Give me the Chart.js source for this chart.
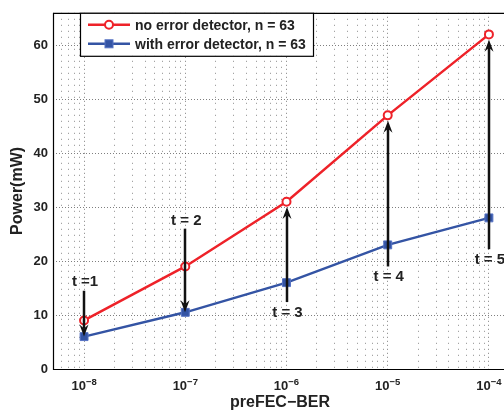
<!DOCTYPE html>
<html lang="en">
<head>
<meta charset="UTF-8">
<title>Power vs preFEC-BER</title>
<script src="https://cdn.jsdelivr.net/npm/chart.js"></script>
<style>
  html, body { margin: 0; padding: 0; background: #fff; overflow: hidden; }
  .chart-box { position: relative; width: 540px; height: 412px; }
</style>
</head>
<body>
<div class="chart-box"><canvas id="chart"></canvas></div>
<script>
  // data
  const berValues = [1e-8, 1e-7, 1e-6, 1e-5, 1e-4];
  const noDetector = [9, 19, 31, 47, 62];
  const withDetector = [6, 10.5, 16, 23, 28];
  const seriesLabels = ['no error detector, n = 63', 'with error detector, n = 63'];

  // arrows between the curves (power values) and their "t" labels
  const arrowLabels = ['t =1', 't = 2', 't = 3', 't = 4', 't = 5'];
  const arrowFrom = [14.5, 26, 12.4, 19, 22.2];
  const arrowTo = [6, 10.5, 30, 46, 61];
  const labelY = [16.1, 27.4, 10.4, 17, 20.2];

  const xExponents = [-8, -7, -6, -5, -4];
  const yTicks = [0, 10, 20, 30, 40, 50, 60];

  const FONT = '"Liberation Sans", Arial, Helvetica, sans-serif';
  const RED = '#ee2229';
  const BLUE = '#3454a4';

  function isMajor(ctx) {
    return ctx.tick && ctx.tick.major;
  }

  function drawArrow(ctx, x, y1, y2) {
    const dir = Math.sign(y2 - y1);
    const headLen = 12, headHalf = 4.5, notch = 4;
    ctx.beginPath();
    ctx.moveTo(x, y1);
    ctx.lineTo(x, y2 - dir * (headLen - notch));
    ctx.stroke();
    ctx.beginPath();
    ctx.moveTo(x, y2);
    ctx.lineTo(x - headHalf, y2 - dir * headLen);
    ctx.lineTo(x, y2 - dir * (headLen - notch));
    ctx.lineTo(x + headHalf, y2 - dir * headLen);
    ctx.closePath();
    ctx.fill();
  }

  const decorations = {
    id: 'decorations',
    beforeDatasetsDraw(chart) {
      const { ctx, chartArea: a } = chart;
      ctx.save();
      ctx.strokeStyle = '#000';
      ctx.lineWidth = 1.2;
      ctx.beginPath();
      ctx.moveTo(a.right + 5, a.top + 0.5);
      ctx.lineTo(a.left + 0.5, a.top + 0.5);
      ctx.lineTo(a.left + 0.5, a.bottom + 0.5);
      ctx.lineTo(a.right + 5, a.bottom + 0.5);
      ctx.stroke();
      ctx.restore();
    },
    afterDatasetsDraw(chart) {
      const { ctx } = chart;
      const xs = chart.scales.x, ys = chart.scales.y;
      ctx.save();
      ctx.strokeStyle = '#111';
      ctx.fillStyle = '#111';
      ctx.lineWidth = 2.5;
      berValues.forEach((v, i) => {
        const px = Math.round(xs.getPixelForValue(v));
        drawArrow(ctx, px, ys.getPixelForValue(arrowFrom[i]), ys.getPixelForValue(arrowTo[i]));
      });
      ctx.font = 'bold 15px ' + FONT;
      ctx.textAlign = 'center';
      ctx.textBaseline = 'middle';
      ctx.fillStyle = '#222';
      berValues.forEach((v, i) => {
        ctx.fillText(arrowLabels[i], xs.getPixelForValue(v) + 1, ys.getPixelForValue(labelY[i]));
      });
      ctx.restore();
    },
    afterDraw(chart) {
      const { ctx, chartArea: a } = chart;
      const xs = chart.scales.x;
      ctx.save();

      // x tick labels as 10 with a raised exponent
      ctx.fillStyle = '#222';
      ctx.textAlign = 'left';
      ctx.textBaseline = 'alphabetic';
      xExponents.forEach(e => {
        const px = xs.getPixelForValue(Math.pow(10, e));
        const exp = '\u2212' + (-e);
        ctx.font = 'bold 13px ' + FONT;
        const wb = ctx.measureText('10').width;
        ctx.font = 'bold 9.5px ' + FONT;
        const we = ctx.measureText(exp).width;
        const x0 = px - (wb + we) / 2;
        ctx.font = 'bold 13px ' + FONT;
        ctx.fillText('10', x0, a.bottom + 21);
        ctx.font = 'bold 9.5px ' + FONT;
        ctx.fillText(exp, x0 + wb, a.bottom + 15.5);
      });

      // x axis title
      ctx.font = 'bold 16px ' + FONT;
      ctx.textAlign = 'center';
      ctx.textBaseline = 'middle';
      ctx.fillText('preFEC\u2212BER', 280, a.bottom + 34);

      // legend box in the upper left corner
      const lx = 80, ly = a.top, lw = 233, lh = 43;
      ctx.fillStyle = '#fff';
      ctx.fillRect(lx, ly, lw, lh);
      ctx.strokeStyle = '#000';
      ctx.lineWidth = 1.2;
      ctx.strokeRect(lx + 0.5, ly + 0.5, lw, lh);
      chart.data.datasets.forEach((ds, i) => {
        const ry = ly + 12 + i * 19;
        ctx.strokeStyle = ds.borderColor;
        ctx.lineWidth = 2.5;
        ctx.beginPath();
        ctx.moveTo(lx + 8, ry);
        ctx.lineTo(lx + 50, ry);
        ctx.stroke();
        if (ds.pointStyle === 'rect') {
          ctx.fillStyle = ds.pointBackgroundColor;
          ctx.fillRect(lx + 25, ry - 4, 8, 8);
          ctx.strokeStyle = ds.pointBorderColor;
          ctx.lineWidth = 1;
          ctx.strokeRect(lx + 25, ry - 4, 8, 8);
        } else {
          ctx.fillStyle = '#fff';
          ctx.lineWidth = 2;
          ctx.beginPath();
          ctx.arc(lx + 29, ry, 4, 0, Math.PI * 2);
          ctx.fill();
          ctx.stroke();
        }
        ctx.fillStyle = '#222';
        ctx.font = 'bold 14px ' + FONT;
        ctx.textAlign = 'left';
        ctx.textBaseline = 'middle';
        ctx.fillText(ds.label, lx + 55, ry + 1);
      });
      ctx.restore();
    }
  };

  new Chart(document.getElementById('chart'), {
    type: 'line',
    data: {
      datasets: [
        {
          label: seriesLabels[0],
          data: berValues.map((x, i) => ({ x, y: noDetector[i] })),
          borderColor: RED,
          borderWidth: 2.5,
          pointStyle: 'circle',
          pointRadius: 4,
          pointBorderWidth: 2,
          pointBorderColor: RED,
          pointBackgroundColor: '#fff'
        },
        {
          label: seriesLabels[1],
          data: berValues.map((x, i) => ({ x, y: withDetector[i] })),
          borderColor: BLUE,
          borderWidth: 2.5,
          pointStyle: 'rect',
          pointRadius: 5.6,
          pointBorderWidth: 1,
          pointBorderColor: '#5572c4',
          pointBackgroundColor: BLUE
        }
      ]
    },
    options: {
      responsive: true,
      maintainAspectRatio: false,
      animation: false,
      layout: { padding: { top: 12, right: 20, left: 0, bottom: 0 } },
      plugins: { legend: { display: false }, tooltip: { enabled: false } },
      scales: {
        x: {
          type: 'logarithmic',
          min: Math.pow(10, -8.307),
          max: Math.pow(10, -3.693),
          afterBuildTicks(scale) {
            const ticks = [];
            for (let e = -9; e <= -4; e++) {
              for (let m = 1; m <= 9; m++) {
                const v = Number(m + 'e' + e);
                if (v >= scale.min && v <= scale.max) ticks.push({ value: v, major: m === 1 });
              }
            }
            scale.ticks = ticks;
          },
          afterFit(scale) { scale.height = 43; },
          ticks: { display: false, autoSkip: false },
          grid: {
            drawTicks: false,
            lineWidth: 1,
            color: ctx => isMajor(ctx) ? 'rgba(0,0,0,0.5)' : 'rgba(0,0,0,0.45)'
          },
          border: { display: false, dash: ctx => isMajor(ctx) ? [1, 3] : [1, 5] }
        },
        y: {
          min: 0,
          max: 66,
          afterBuildTicks(scale) {
            scale.ticks = yTicks.map(v => ({ value: v, major: true }));
          },
          afterFit(scale) { scale.width = 53; },
          ticks: {
            autoSkip: false,
            padding: 5,
            color: '#222',
            font: { family: FONT, size: 13, weight: 'bold' }
          },
          title: {
            display: true,
            text: 'Power(mW)',
            color: '#222',
            font: { family: FONT, size: 16, weight: 'bold' },
            padding: { top: 7.5, bottom: 0 }
          },
          grid: {
            drawTicks: false,
            lineWidth: 1,
            color: 'rgba(0,0,0,0.5)'
          },
          border: { display: false, dash: [1, 2] }
        }
      }
    },
    plugins: [decorations]
  });
</script>
</body>
</html>
